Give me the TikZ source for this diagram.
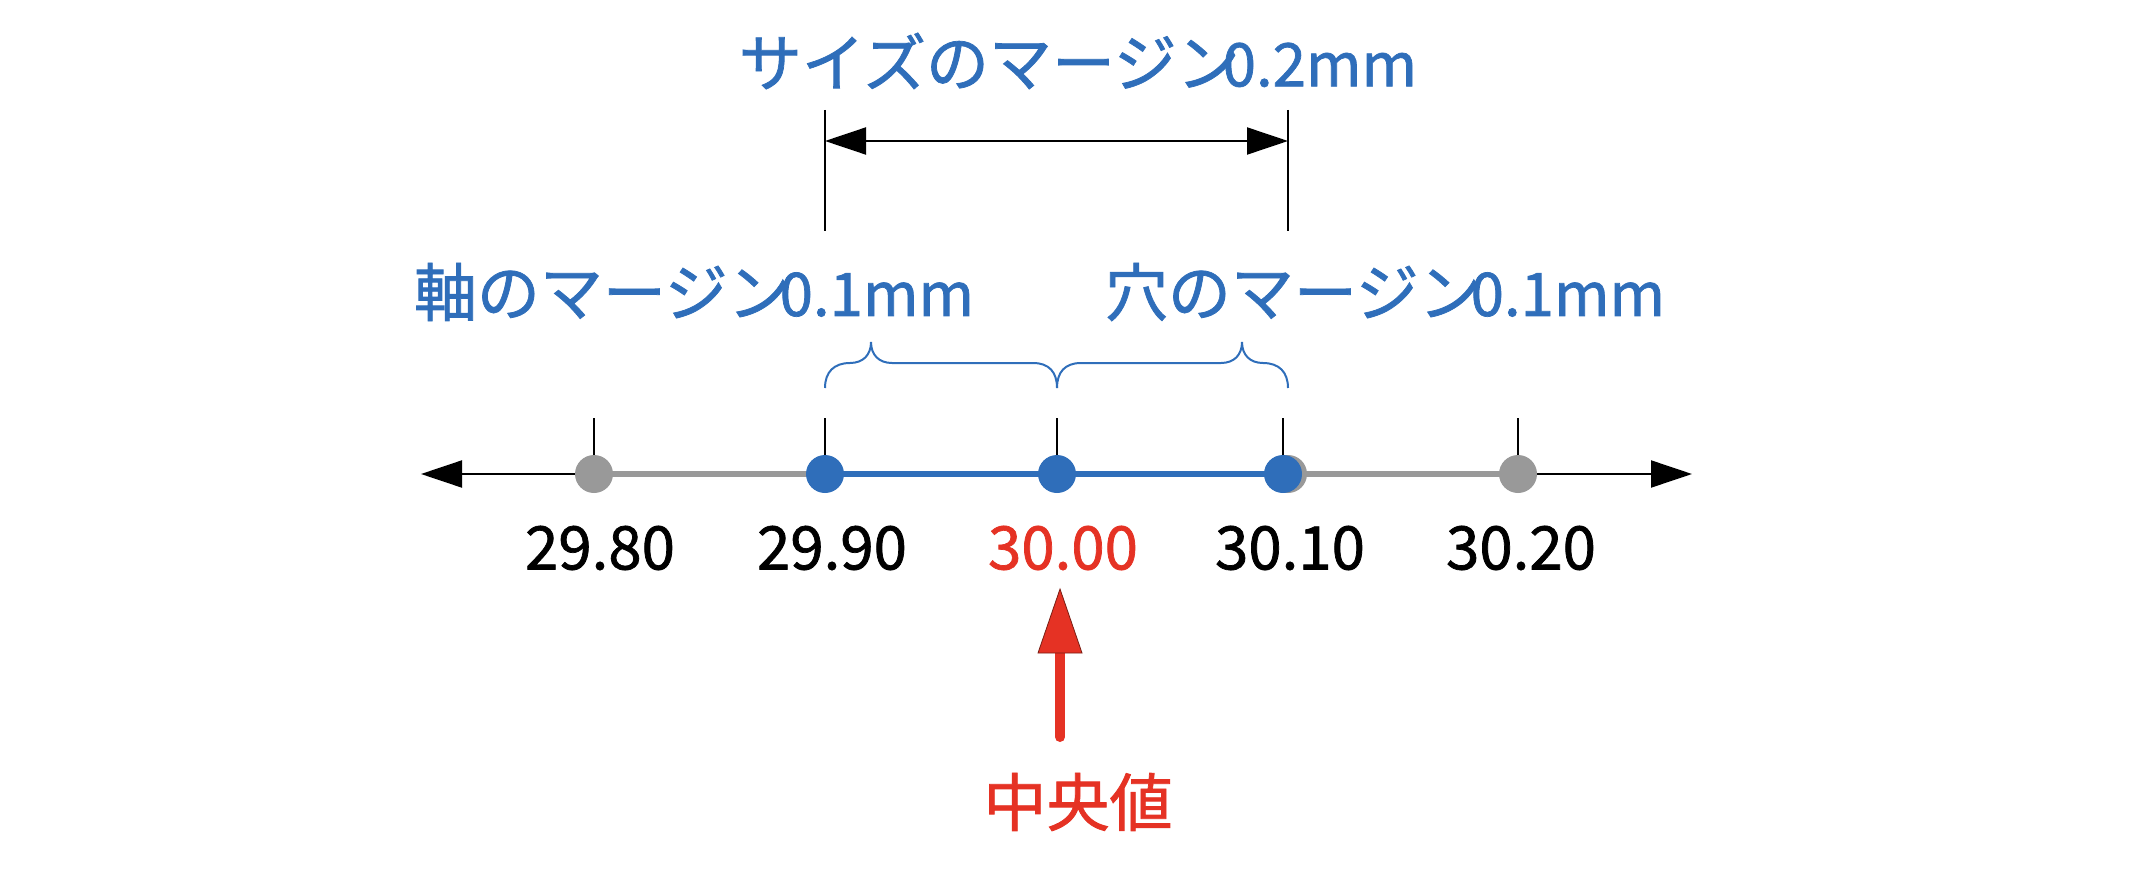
\documentclass[tikz,border=0pt]{standalone}
\usepackage{fontspec}
\setmainfont{Noto Sans CJK JP}[FakeBold=1.2]
\usetikzlibrary{arrows.meta,backgrounds}
\definecolor{mblue}{RGB}{47,110,186}
\definecolor{mred}{RGB}{229,50,36}
\definecolor{mgray}{RGB}{153,153,153}
\definecolor{mdred}{RGB}{120,30,20}
\tikzset{
  dot/.style={circle,minimum size=38pt,inner sep=0pt,draw=none},
  bdot/.style={dot,fill=mblue},
  gdot/.style={dot,fill=mgray},
  lbl/.style={inner sep=0pt,font=\fontsize{63}{63}\selectfont},
  num/.style={inner sep=0pt,font=\fontsize{60}{60}\selectfont},
  thick axis/.style={line width=5.5pt},
  thin axis/.style={line width=2pt,black},
  tickline/.style={line width=2pt,black},
  bracepath/.style={line width=2pt,mblue},
  tri/.style={-{Triangle[length=41pt,width=27pt]}},
}
\newcommand{\dg}[1]{{\fontsize{60}{60}\selectfont #1}}
\begin{document}
\begin{tikzpicture}[x=1pt,y=-1pt]
\useasboundingbox (0,0) rectangle (2138,872);

% dots
\node[gdot] (g1) at (594,474) {};
\node[bdot] (b1) at (825,474) {};
\node[bdot] (b2) at (1057,474) {};
\node[gdot] (g2) at (1288,474) {};
\node[bdot] (b3) at (1283,474) {};
\node[gdot] (g3) at (1518,474) {};
\coordinate (lend) at (421,474);
\coordinate (rend) at (1692,474);

\begin{scope}[on background layer]
  \draw[thin axis,tri] (g1.center) -- (lend);
  \draw[thin axis,tri] (g3.center) -- (rend);
  \draw[thick axis,mgray] (g1.center) -- (b1.center);
  \draw[thick axis,mblue] (b1.center) -- (b3.center);
  \draw[thick axis,mgray] (g2.center) -- (g3.center);
  \foreach \n in {g1,b1,b2,b3,g3}
    \draw[tickline] (\n.center) -- ++(0,-56);
\end{scope}

% braces
\draw[bracepath] (825,388) .. controls (825,372) and (834,363) .. (850,363)
  .. controls (863,363) and (871,355) .. (871,342)
  .. controls (871,355) and (879,363) .. (892,363) -- (1033,363)
  .. controls (1049,363) and (1057,372) .. (1057,388);
\draw[bracepath] (1057,388) .. controls (1057,372) and (1065,363) .. (1081,363) -- (1221,363)
  .. controls (1234,363) and (1242,355) .. (1242,342)
  .. controls (1242,355) and (1250,363) .. (1263,363)
  .. controls (1279,363) and (1288,372) .. (1288,388);

% dimension line
\coordinate (dl1) at (825,110);
\coordinate (dl2) at (825,231);
\coordinate (dr1) at (1288,110);
\coordinate (dr2) at (1288,231);
\coordinate (da) at (825,141);
\coordinate (db) at (1288,141);
\draw[tickline] (dl1) -- (dl2);
\draw[tickline] (dr1) -- (dr2);
\draw[thin axis,{Triangle[length=41pt,width=27pt]}-{Triangle[length=41pt,width=27pt]}] (da) -- (db);

% labels
\node[lbl,text=mblue] (top) at (1078,61) {サイズのマージン\kern-17pt\dg{0.2mm}};
\node[lbl,text=mblue] (shaft) at (694,292) {軸のマージン\kern-11pt\dg{0.1mm}};
\node[lbl,text=mblue] (hole) at (1385,292) {穴のマージン\kern-11pt\dg{0.1mm}};

\node[num] (n1) at (600,548) {29.80};
\node[num] (n2) at (832,548) {29.90};
\node[num,text=mred] (n3) at (1063,548) {30.00};
\node[num] (n4) at (1290,548) {30.10};
\node[num] (n5) at (1521,548) {30.20};

\node[lbl,text=mred] (med) at (1078,802) {中央値};

% red arrow
\coordinate (rs) at (1060,737);
\coordinate (rb) at (1060,652);
\coordinate (rt) at (1060,589);
\draw[mred,line width=10pt,line cap=round] (rs) -- (rb);
\filldraw[fill=mred,draw=mdred,line width=0.8pt] (1038,653) -- (1082,653) -- (rt) -- cycle;
\end{tikzpicture}
\end{document}
